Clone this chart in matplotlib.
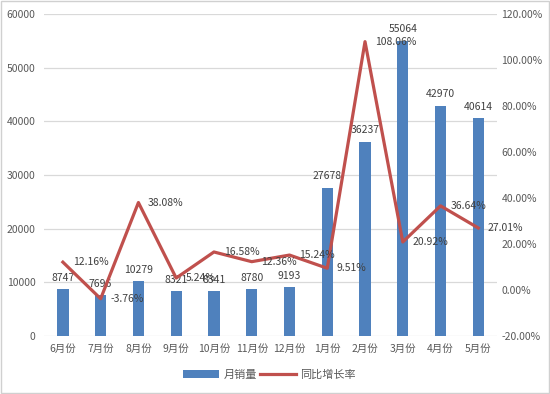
import matplotlib
matplotlib.use('Agg')
import matplotlib.pyplot as plt
from matplotlib.patches import Rectangle
from matplotlib.ticker import FuncFormatter
import numpy as np

plt.rcParams['font.family'] = ['Noto Sans CJK SC', 'DejaVu Sans']

# data
months = ['6月份', '7月份', '8月份', '9月份', '10月份', '11月份', '12月份',
          '1月份', '2月份', '3月份', '4月份', '5月份']
sales = [8747, 7696, 10279, 8321, 8341, 8780, 9193, 27678, 36237, 55064, 42970, 40614]
growth = [12.16, -3.76, 38.08, 5.24, 16.58, 12.36, 15.24, 9.51, 108.06, 20.92, 36.64, 27.01]

bar_color = '#4F81BD'
line_color = '#C0504D'
text_color = '#595959'

fig = plt.figure(figsize=(5.5, 3.94), dpi=100)
ax = fig.add_axes([0.08, 0.147, 0.824, 0.817])
ax2 = ax.twinx()

x = np.arange(len(months))
bars = ax.bar(x, sales, width=0.3, color=bar_color, label='月销量', zorder=2)
for xi, v in zip(x, sales):
    ax.annotate(str(v), (xi, v), xytext=(0, 4.5), textcoords='offset points',
                ha='center', va='bottom', fontsize=7.5, color='#404040')

ax.set_ylim(0, 60000)
ax.set_yticks(range(0, 60001, 10000))
ax.set_xlim(-0.5, len(months) - 0.5)
ax.set_xticks(x)
ax.set_xticklabels(months)
ax.grid(axis='y', color='#D9D9D9', linewidth=0.9, zorder=0)
ax.set_axisbelow(True)

ax2.plot(x, growth, color=line_color, linewidth=2.3, label='同比增长率', zorder=3)
for xi, v in zip(x, growth):
    ax2.annotate('%.2f%%' % v, (xi, v), xytext=(7, 0), textcoords='offset points',
                 ha='left', va='center', fontsize=7.5, color='#404040')
ax2.set_ylim(-20, 120)
ax2.set_yticks(range(-20, 121, 20))
ax2.yaxis.set_major_formatter(FuncFormatter(lambda v, p: '%.2f%%' % v))

for a in (ax, ax2):
    for s in a.spines.values():
        s.set_visible(False)
    a.tick_params(length=0, labelsize=7.5, colors=text_color)
ax.tick_params(axis='x', pad=6)
ax.tick_params(axis='y', pad=6)
ax2.tick_params(axis='y', pad=3)

handles = [bars, ax2.get_lines()[0]]
fig.legend(handles, ['月销量', '同比增长率'], loc='center', bbox_to_anchor=(0.49, 0.048),
           ncol=2, frameon=False, fontsize=8, labelcolor=text_color,
           handlelength=3.2, handletextpad=0.4, columnspacing=0.3)

fig.patches.append(Rectangle((0.002, 0.003), 0.996, 0.994, transform=fig.transFigure,
                             fill=False, edgecolor='#D0D0D0', linewidth=1))

fig.savefig('out.png', dpi=100)
